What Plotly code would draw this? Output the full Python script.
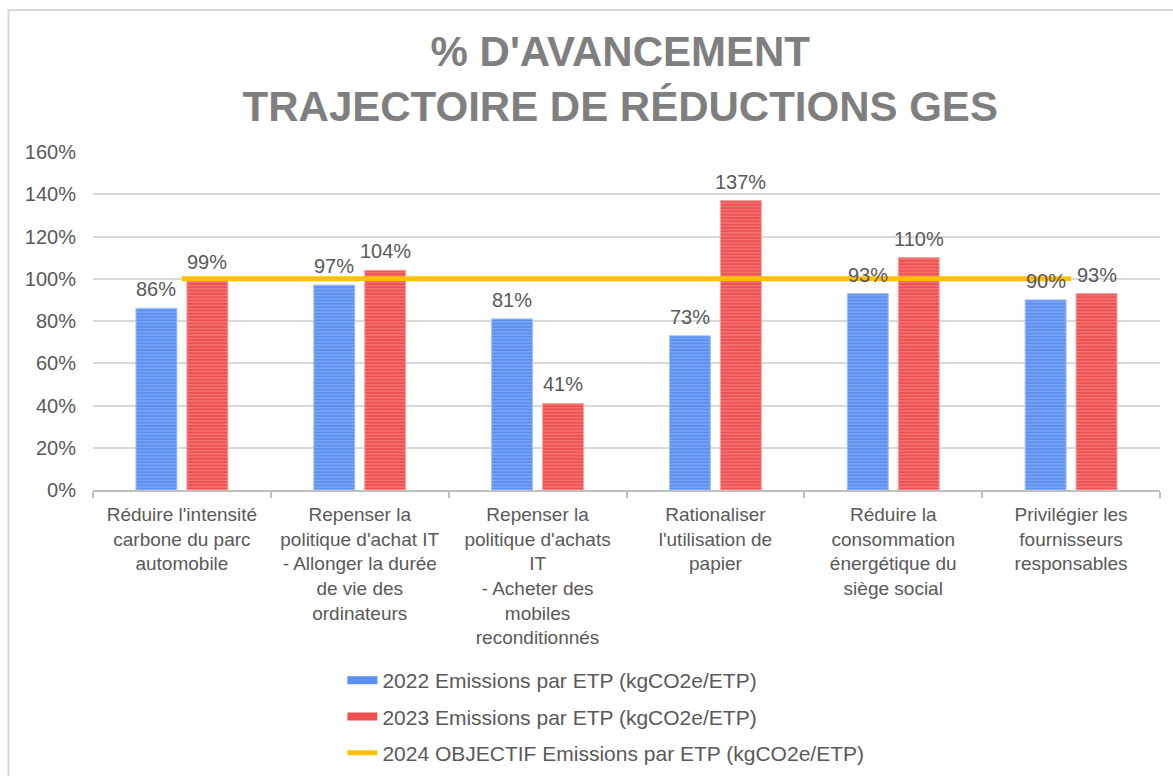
import plotly.graph_objects as go

# Actions (x-axis categories)
categories = [
    "Réduire l'intensité<br>carbone du parc<br>automobile",
    "Repenser la<br>politique d'achat IT<br>- Allonger la durée<br>de vie des<br>ordinateurs",
    "Repenser la<br>politique d'achats<br>IT<br>- Acheter des<br>mobiles<br>reconditionnés",
    "Rationaliser<br>l'utilisation de<br>papier",
    "Réduire la<br>consommation<br>énergétique du<br>siège social",
    "Privilégier les<br>fournisseurs<br>responsables",
]

# Progress ratios per year (1.0 = 100 %)
progress_2022 = [0.86, 0.97, 0.81, 0.73, 0.93, 0.90]
progress_2023 = [0.99, 1.04, 0.41, 1.37, 1.10, 0.93]
objective_2024 = [1.0, 1.0, 1.0, 1.0, 1.0, 1.0]

series_names = [
    "2022 Emissions par ETP (kgCO2e/ETP)",
    "2023 Emissions par ETP (kgCO2e/ETP)",
    "2024 OBJECTIF Emissions par ETP (kgCO2e/ETP)",
]

y_ticks = [0, 0.2, 0.4, 0.6, 0.8, 1.0, 1.2, 1.4, 1.6]

FONT = "Liberation Sans, Arial, sans-serif"
TEXT = "#595959"
BLUE, BLUE_STRIPE = "#5A8EF0", "#A3C2F8"
RED, RED_STRIPE = "#EE4F4F", "#F6A3A3"
GOLD = "#FFC000"

W, H = 1173, 776
L, R, T, B = 92.5, 13, 152, 286
plot_w = W - L - R
plot_h = H - T - B


def px_to_paper_x(px):
    return (px - L) / plot_w


def px_to_paper_y(py):
    return (H - B - py) / plot_h


fig = go.Figure()

for vals, col, stripe, name in [
    (progress_2022, BLUE, BLUE_STRIPE, series_names[0]),
    (progress_2023, RED, RED_STRIPE, series_names[1]),
]:
    fig.add_trace(go.Bar(
        x=categories, y=vals, name=name, showlegend=False,
        marker=dict(
            color=col,
            line=dict(color=stripe, width=1),
            pattern=dict(shape="-", size=3.3, solidity=0.4,
                         fgcolor=stripe, bgcolor=col, fillmode="overlay"),
        ),
        hoverinfo="skip",
    ))

fig.add_trace(go.Scatter(
    x=categories, y=objective_2024, mode="lines", name=series_names[2],
    line=dict(color=GOLD, width=5), showlegend=False, hoverinfo="skip",
))

# Legend entries drawn as wide strokes
for col, width, name, grp in [
    (BLUE, 8, series_names[0], "a"),
    (RED, 8, series_names[1], "b"),
    (GOLD, 5, series_names[2], "c"),
]:
    fig.add_trace(go.Scatter(
        x=[None], y=[None], mode="lines", name=name, legendgroup=grp,
        line=dict(color=col, width=width),
    ))

# Value labels above each bar
bar_offset = 25.5
annotations = []
for vals, shift in [(progress_2022, -bar_offset), (progress_2023, bar_offset)]:
    for cat, v in zip(categories, vals):
        annotations.append(dict(
            x=cat, y=v, xref="x", yref="y", text=f"{round(v * 100)}%",
            showarrow=False, xshift=shift, yanchor="bottom", yshift=6,
            font=dict(family=FONT, size=20, color=TEXT),
        ))

fig.update_layout(
    width=W, height=H,
    margin=dict(l=L, r=R, t=T, b=B, pad=0, autoexpand=False),
    paper_bgcolor="white", plot_bgcolor="white",
    barmode="group", bargap=0.427, bargroupgap=0.196,
    title=dict(
        text="% D'AVANCEMENT<br>TRAJECTOIRE DE RÉDUCTIONS GES",
        x=px_to_paper_x(620), xref="paper", xanchor="center",
        y=1 - 66 / H, yref="container", yanchor="middle",
        font=dict(family=FONT, size=42, color="#7F7F7F", weight="bold"),
    ),
    xaxis=dict(
        showgrid=False, showline=True, linecolor="#BFBFBF", linewidth=2,
        ticks="outside", tickson="boundaries", ticklen=6, tickcolor="#BFBFBF",
        tickwidth=2, tickangle=0, ticklabelstandoff=6,
        tickfont=dict(family=FONT, size=19, color=TEXT),
    ),
    yaxis=dict(
        range=[0, 1.6], tickvals=y_ticks, tickformat=".0%",
        showgrid=True, gridcolor="#D9D9D9", gridwidth=2,
        zeroline=False, showline=False, ticks="",
        ticklabelstandoff=16,
        tickfont=dict(family=FONT, size=20, color=TEXT),
    ),
    legend=dict(
        x=px_to_paper_x(342), xanchor="left",
        y=px_to_paper_y(660), yanchor="top",
        font=dict(family=FONT, size=21, color=TEXT),
        tracegroupgap=6, bgcolor="rgba(0,0,0,0)",
        itemclick=False, itemdoubleclick=False,
    ),
    annotations=annotations,
    shapes=[dict(
        type="rect", xref="paper", yref="paper",
        x0=px_to_paper_x(8), x1=px_to_paper_x(W + 20),
        y0=px_to_paper_y(H + 20), y1=px_to_paper_y(10),
        line=dict(color="#D9D9D9", width=2), fillcolor="rgba(0,0,0,0)",
        layer="below",
    )],
)

fig.write_html("out.html")
